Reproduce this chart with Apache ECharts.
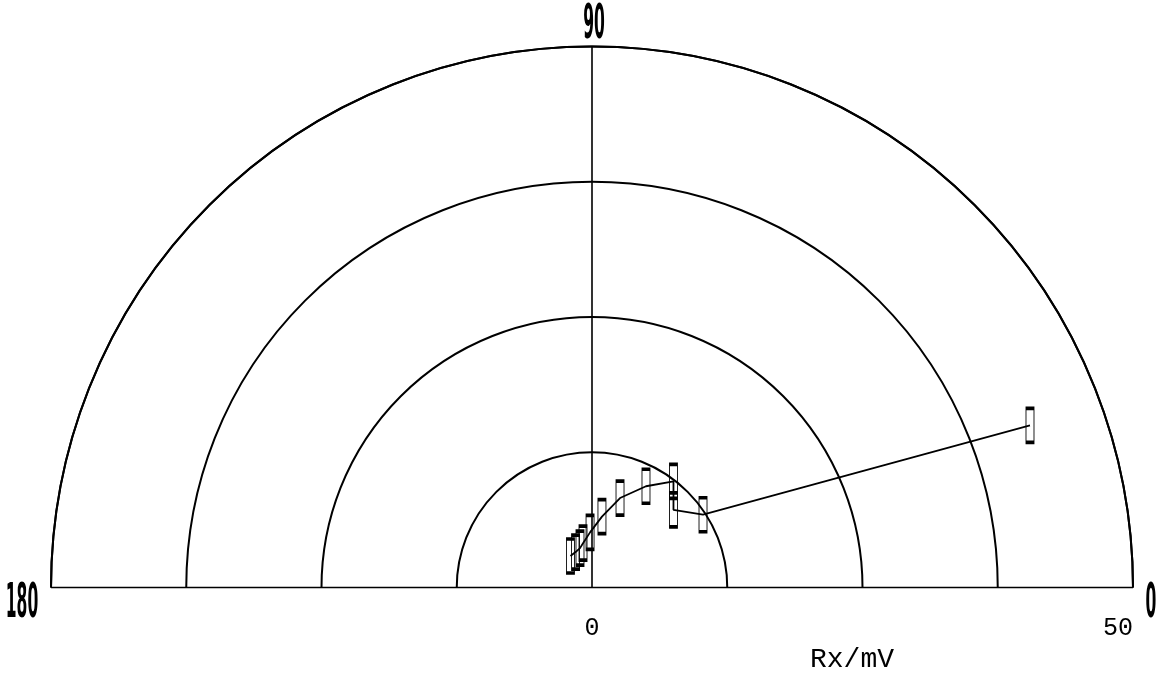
<!DOCTYPE html>
<html>
<head>
<meta charset="utf-8">
<script src="https://cdn.jsdelivr.net/npm/echarts@6/dist/echarts.min.js"></script>
<style>
  html, body { margin: 0; padding: 0; background: #fff; }
  #chart { width: 1160px; height: 679px; }
</style>
</head>
<body>
<div id="chart"></div>
<script>
  // Rx / Ry readings (mV), in the order the line joins them
  var rx = [-1.99, -1.52, -1.11, -0.83, -0.18, 0.92, 2.59, 4.99, 7.53, 7.53, 10.26, 40.48]
  var ry = [2.08, 2.45, 2.82, 3.28, 4.30, 5.78, 7.53, 8.64, 9.10, 6.42, 5.96, 14.37]
  var ringStep = 12.5
  var radiusMax = 50
  var angleTicks = ['0', '90', '180']
  var xTickLabels = ['0', '50']
  var xName = 'Rx/mV'

  var cx = 592, cy = 587.5, R = 541

  var chart = echarts.init(document.getElementById('chart'))

  function angleLabel(text, x, y) {
    return {
      type: 'text', x: x, y: y, scaleX: 0.36, silent: true,
      style: {
        text: text, fill: '#000', textAlign: 'center', textVerticalAlign: 'middle',
        font: 'bold 48px "DejaVu Sans Condensed", "DejaVu Sans"'
      }
    }
  }

  var option = {
    backgroundColor: '#fff',
    animation: false,
    polar: { center: [cx, cy], radius: R },
    angleAxis: {
      type: 'value', min: 0, max: 180, interval: 90,
      startAngle: 0, endAngle: 180, clockwise: false,
      axisLine: { lineStyle: { color: '#000', width: 2 } },
      axisTick: { show: false },
      axisLabel: { show: false },
      splitLine: { show: true, lineStyle: { color: '#000', width: 1.6 } }
    },
    radiusAxis: {
      type: 'value', min: 0, max: radiusMax, interval: ringStep,
      axisLine: { show: false },
      axisTick: { show: false },
      axisLabel: { show: false },
      splitLine: { show: true, lineStyle: { color: '#000', width: 2 } }
    },
    grid: { left: cx - R, top: cy - R, width: 2 * R, height: R },
    xAxis: {
      type: 'value', min: -radiusMax, max: radiusMax, interval: radiusMax,
      axisLine: { show: false },
      axisTick: { show: false },
      splitLine: { show: false },
      axisLabel: {
        margin: 38, color: '#000', fontFamily: '"Liberation Mono", monospace', fontSize: 25,
        alignMaxLabel: 'right',
        formatter: function (v) { return v === 0 ? xTickLabels[0] : (v === radiusMax ? xTickLabels[1] : '') }
      },
      name: xName, nameLocation: 'middle', nameGap: 58,
      nameTextStyle: { color: '#000', fontFamily: '"Liberation Mono", monospace', fontSize: 28, padding: [0, 0, 0, 520] }
    },
    yAxis: {
      type: 'value', min: 0, max: radiusMax, show: false
    },
    series: [{
      type: 'line',
      data: rx.map(function (x, i) { return [x, ry[i]] }),
      symbol: 'rect', symbolSize: [8, 34], showAllSymbol: true,
      itemStyle: { color: 'rgba(0,0,0,0)', borderColor: '#000', borderWidth: 1.8 },
      lineStyle: { color: '#000', width: 1.8 },
      emphasis: { disabled: true },
      z: 5
    }],
    graphic: [
      angleLabel(angleTicks[1], 594, 26),
      angleLabel(angleTicks[2], 22, 605),
      angleLabel(angleTicks[0], 1151, 605)
    ]
  }

  chart.setOption(option)
</script>
</body>
</html>
